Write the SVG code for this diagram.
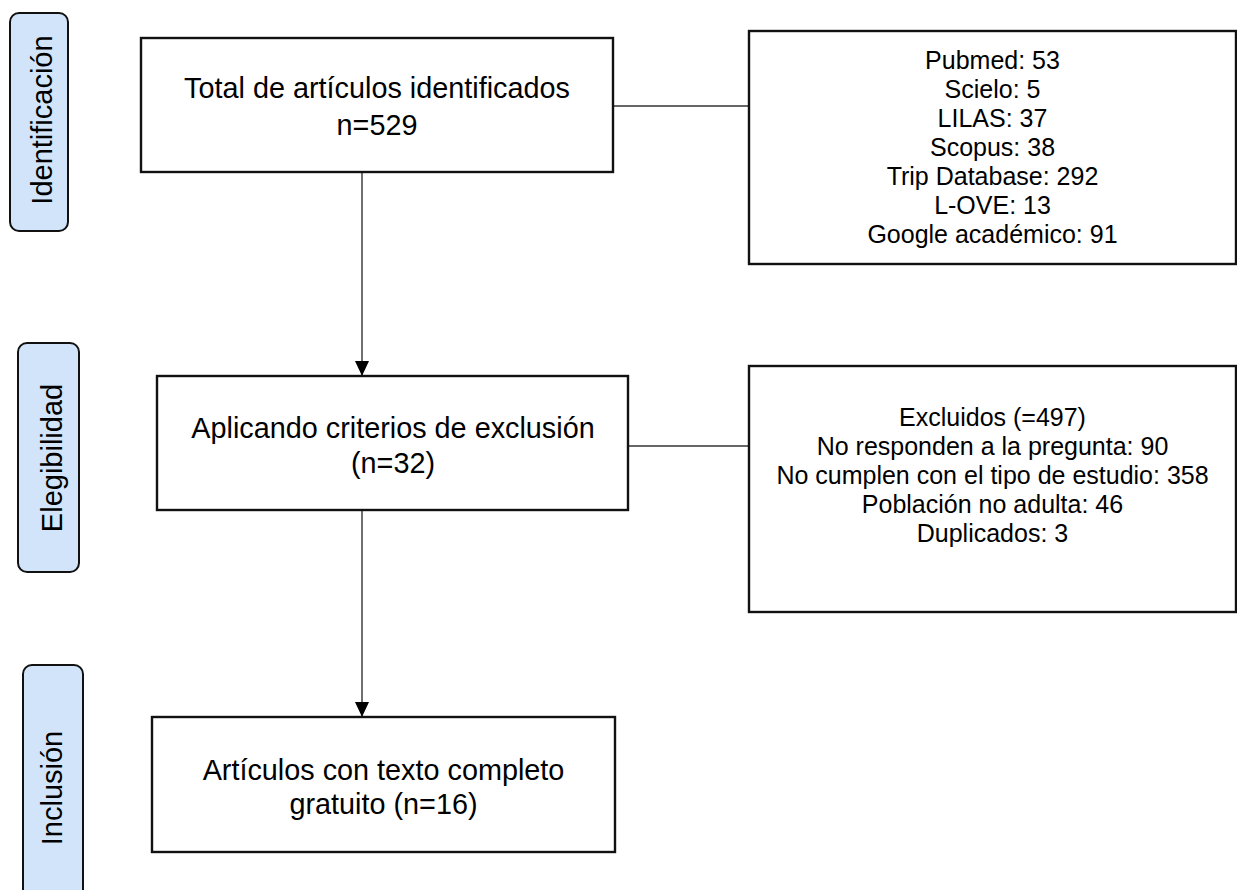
<svg xmlns="http://www.w3.org/2000/svg" width="1237" height="890" viewBox="0 0 1237 890">
<style>
.side{fill:#d1e4f9;stroke:#111;stroke-width:2}
.box{fill:#fff;stroke:#111;stroke-width:2.4}
.t{font-family:"Liberation Sans",Arial,sans-serif;fill:#000;text-anchor:middle}
.big{font-size:28.8px}
.sm{font-size:25px}
.lab{font-size:29px}
.con{stroke:#333;stroke-width:1.4;fill:none}
</style>
<defs>
<marker id="ah" markerWidth="15" markerHeight="14" refX="15" refY="7" orient="auto" markerUnits="userSpaceOnUse">
<path d="M0,0 L15,7 L0,14 Z" fill="#000"/>
</marker>
</defs>
<rect width="1237" height="890" fill="#fff"/>
<g id="side-identificacion">
<rect class="side" x="10" y="13" width="58" height="218" rx="9"/>
<text class="t lab" transform="translate(52,120) rotate(-90)">Identificación</text>
</g>
<g id="side-elegibilidad">
<rect class="side" x="18" y="343" width="61" height="229" rx="9"/>
<text class="t lab" transform="translate(62,458) rotate(-90)">Elegibilidad</text>
</g>
<g id="side-inclusion">
<rect class="side" x="23" y="665" width="60" height="240" rx="9"/>
<text class="t lab" transform="translate(62,788) rotate(-90)">Inclusión</text>
</g>
<g id="connectors">
<line class="con" x1="613" y1="106" x2="749" y2="106"/>
<line class="con" x1="628" y1="446" x2="749" y2="446"/>
<line class="con" x1="362" y1="172" x2="362" y2="376" marker-end="url(#ah)"/>
<line class="con" x1="362" y1="510" x2="362" y2="717" marker-end="url(#ah)"/>
</g>
<g id="box-total">
<rect class="box" x="141" y="38" width="472" height="134"/>
<text class="t big" x="377" y="98">Total de artículos identificados</text>
<text class="t big" x="377" y="135">n=529</text>
</g>
<g id="box-fuentes">
<rect class="box" x="749" y="31" width="487" height="233"/>
<text class="t sm" x="992.5" y="69">Pubmed: 53</text>
<text class="t sm" x="992.5" y="98">Scielo: 5</text>
<text class="t sm" x="992.5" y="127">LILAS: 37</text>
<text class="t sm" x="992.5" y="156">Scopus: 38</text>
<text class="t sm" x="992.5" y="185">Trip Database: 292</text>
<text class="t sm" x="992.5" y="214">L-OVE: 13</text>
<text class="t sm" x="992.5" y="243">Google académico: 91</text>
</g>
<g id="box-criterios">
<rect class="box" x="157" y="376" width="471" height="134"/>
<text class="t big" x="393" y="438">Aplicando criterios de exclusión</text>
<text class="t big" x="393" y="473">(n=32)</text>
</g>
<g id="box-excluidos">
<rect class="box" x="749" y="366" width="487" height="246"/>
<text class="t sm" x="992.5" y="426">Excluidos (=497)</text>
<text class="t sm" x="992.5" y="455">No responden a la pregunta: 90</text>
<text class="t sm" x="992.5" y="484">No cumplen con el tipo de estudio: 358</text>
<text class="t sm" x="992.5" y="513">Población no adulta: 46</text>
<text class="t sm" x="992.5" y="542">Duplicados: 3</text>
</g>
<g id="box-inclusion">
<rect class="box" x="152" y="717" width="463" height="135"/>
<text class="t big" x="383.5" y="780">Artículos con texto completo</text>
<text class="t big" x="383.5" y="814">gratuito (n=16)</text>
</g>
</svg>
